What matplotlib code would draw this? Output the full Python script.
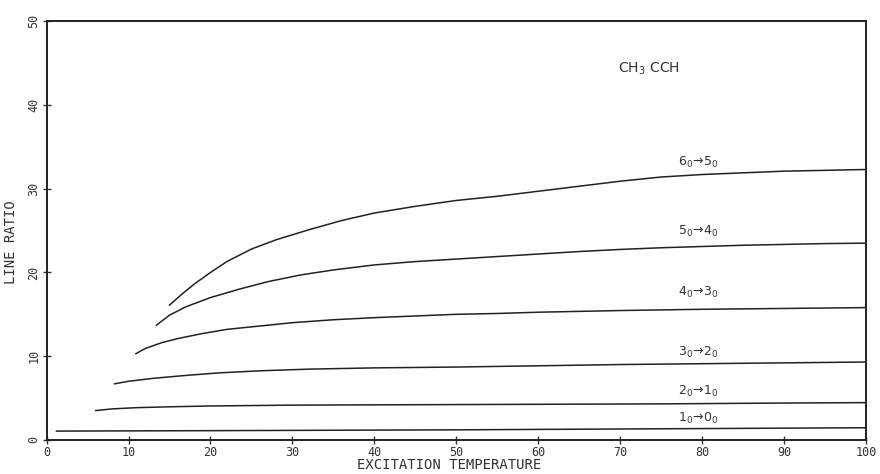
import matplotlib.pyplot as plt
import numpy as np

t65 = [15.0, 16.5, 18, 20, 22, 25, 28, 32, 36, 40, 45, 50, 55, 60, 65, 70, 75, 80, 85, 90, 95, 100]
r65 = [16.1, 17.4, 18.6, 20.0, 21.3, 22.8, 23.9, 25.1, 26.2, 27.1, 27.9, 28.6, 29.1, 29.7,
       30.3, 30.9, 31.4, 31.7, 31.9, 32.1, 32.2, 32.3]
t54 = [13.4, 15, 17, 20, 23.5, 27, 31, 35, 40, 45, 50, 55, 60, 65, 70, 75, 80, 85, 90, 95, 100]
r54 = [13.7, 14.9, 15.9, 17.0, 18.0, 18.9, 19.7, 20.3, 20.9, 21.3, 21.6, 21.9, 22.2, 22.5,
       22.75, 22.95, 23.1, 23.25, 23.35, 23.45, 23.5]
t43 = [10.9, 12, 14, 16, 19, 22, 26, 30, 35, 40, 45, 50, 55, 60, 70, 80, 90, 100]
r43 = [10.3, 10.9, 11.6, 12.1, 12.7, 13.2, 13.6, 14.0, 14.35, 14.6, 14.8, 15.0, 15.1, 15.25,
       15.45, 15.6, 15.7, 15.8]
t32 = [8.3, 10, 13, 17, 21, 26, 32, 40, 50, 60, 70, 80, 90, 100]
r32 = [6.7, 7.0, 7.35, 7.7, 8.0, 8.25, 8.45, 8.6, 8.7, 8.85, 9.0, 9.1, 9.2, 9.3]
t21 = [6.0, 8, 11, 15, 20, 30, 45, 60, 75, 90, 100]
r21 = [3.5, 3.7, 3.85, 3.95, 4.05, 4.15, 4.2, 4.25, 4.3, 4.4, 4.45]
t10 = [1.2, 20, 50, 80, 100]
r10 = [1.05, 1.1, 1.2, 1.35, 1.45]

curves = [(t65, r65), (t54, r54), (t43, r43), (t32, r32), (t21, r21), (t10, r10)]
labels = [r'$6_{0}\!\rightarrow\!5_{0}$', r'$5_{0}\!\rightarrow\!4_{0}$',
          r'$4_{0}\!\rightarrow\!3_{0}$', r'$3_{0}\!\rightarrow\!2_{0}$',
          r'$2_{0}\!\rightarrow\!1_{0}$', r'$1_{0}\!\rightarrow\!0_{0}$']
label_y = [33.1, 24.9, 17.6, 10.4, 5.8, 2.6]
label_x = 79.5

plt.rcParams['font.family'] = 'DejaVu Sans Mono'
plt.rcParams['mathtext.fontset'] = 'dejavusans'

fig = plt.figure(figsize=(8.8, 4.74), dpi=100)
ax = fig.add_axes([0.053, 0.072, 0.931, 0.883])

for t, r in curves:
    ax.plot(t, r, color='#222222', lw=1.1)

for lab, ly in zip(labels, label_y):
    ax.text(label_x, ly, lab, fontsize=9, color='#333333', ha='center', va='center')

ax.text(73.5, 44.3, r'$\mathrm{CH_{3}\ CCH}$', fontsize=10, color='#333333',
        ha='center', va='center')

ax.set_xlim(0, 100)
ax.set_ylim(0, 50)
ax.set_xticks(np.arange(0, 101, 10))
ax.set_yticks(np.arange(0, 51, 10))
ax.tick_params(direction='inout', length=6, width=1, labelsize=8.5, colors='#333333', pad=1.5)
for lbl in ax.get_yticklabels():
    lbl.set_rotation(90)
    lbl.set_va('center')
for s in ax.spines.values():
    s.set_linewidth(1.4)
    s.set_color('#222222')

fig.text(0.51, 0.004, 'EXCITATION TEMPERATURE', fontsize=10, ha='center', va='bottom',
         color='#333333')
fig.text(0.004, 0.49, 'LINE RATIO', fontsize=10, rotation=90, ha='left', va='center',
         color='#333333')

fig.savefig('out.png', dpi=100, facecolor='white')
